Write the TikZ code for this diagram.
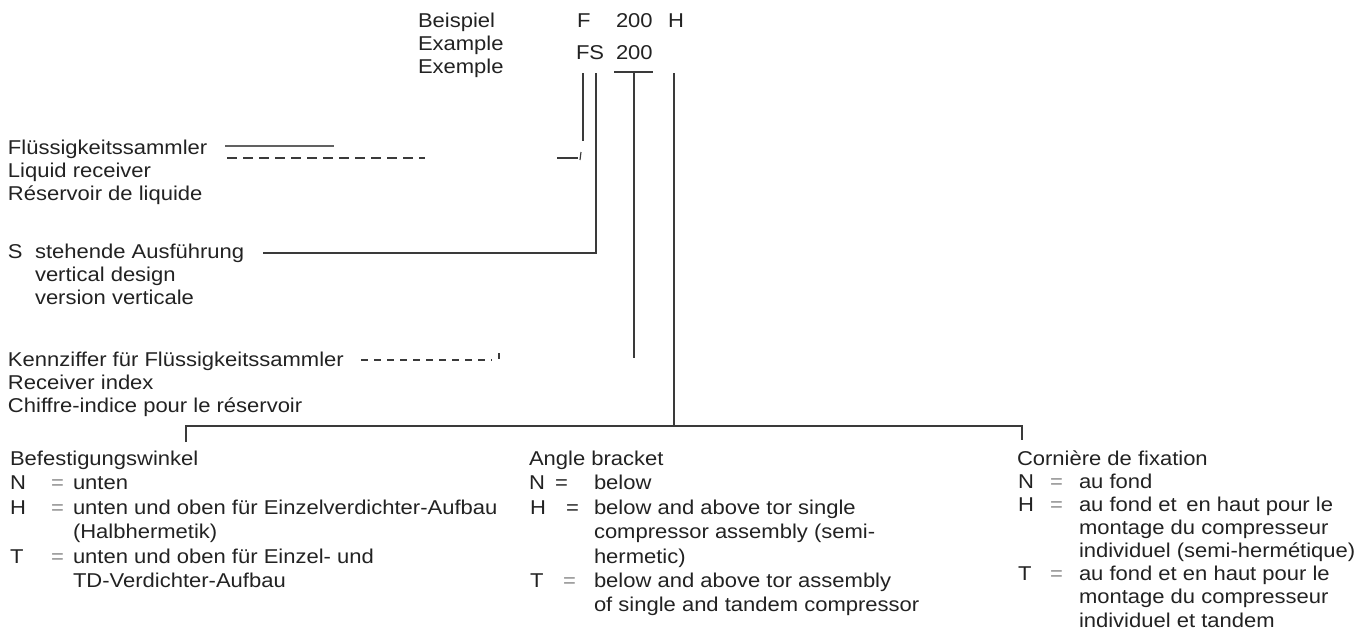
\documentclass[tikz,border=0pt]{standalone}
\usepackage{fontspec}
\usetikzlibrary{calc}
\setmainfont[FakeStretch=1.1]{Liberation Sans}
\definecolor{ink}{HTML}{222222}
\definecolor{lin}{HTML}{3A3A3A}
\definecolor{eqc}{HTML}{8A8A8A}
\newcommand\fsz{\fontsize{20}{22}\selectfont}
\tikzset{
  txt/.style={anchor=base west, inner sep=0pt, outer sep=0pt, text=ink, font=\fsz},
  eqs/.style={txt, text=eqc},
  ln/.style={draw=lin, line width=1.15pt},
  dsh/.style={ln, dash pattern=on 10pt off 6pt},
  dsk/.style={ln, dash pattern=on 7pt off 6pt},
}
\begin{document}
\begin{tikzpicture}[x=1pt,y=-1pt]
\useasboundingbox (0,0) rectangle (1371,632);
% example code
\node[txt] (bsp) at (418,27) {Beispiel};
\node[txt] (exa) at (418,50) {Example};
\node[txt] (exe) at (418,73) {Exemple};
\node[txt] (cF) at (577,27) {F};
\node[txt] (c200a) at (616,27) {200};
\node[txt] (cH) at (668,27) {H};
\node[txt] (cFS) at (576,59) {FS};
\node[txt] (c200b) at (616,59) {200};
% left labels
\node[txt] (fl1) at (8,154) {Flüssigkeitssammler};
\node[txt] (fl2) at (8,177) {Liquid receiver};
\node[txt] (fl3) at (8,200) {Réservoir de liquide};
\node[txt] (sS) at (8,258) {S};
\node[txt] (s1) at (35,258) {stehende Ausführung};
\node[txt] (s2) at (35,281) {vertical design};
\node[txt] (s3) at (35,304) {version verticale};
\node[txt] (k1) at (8,366) {Kennziffer für Flüssigkeitssammler};
\node[txt] (k2) at (8,389) {Receiver index};
\node[txt] (k3) at (8,412) {Chiffre-indice pour le réservoir};
% connector points
\coordinate (fTop) at (583,73);
\coordinate (fBot) at (583,141);
\coordinate (fHookR) at (578,158);
\coordinate (fHookL) at (557,158);
\coordinate (fSolA) at (225,146);
\coordinate (fSolB) at (334,146);
\coordinate (fDshA) at (227,158);
\coordinate (fDshB) at (425,158);
\coordinate (sTop) at (596,73);
\coordinate (sCor) at (596,253);
\coordinate (sEnd) at (263,253);
\coordinate (nBarL) at (614,72);
\coordinate (nBarR) at (653,72);
\coordinate (nMid) at (634,72);
\coordinate (nBot) at (634,358);
\coordinate (kA) at (361,360);
\coordinate (kB) at (492,360);
\coordinate (hTop) at (674,73);
\coordinate (hBar) at (674,426);
\coordinate (bL) at (186,426);
\coordinate (bR) at (1022,426);
\coordinate (bLd) at (186,442);
\coordinate (bRd) at (1022,440);
% connectors
\draw[ln] (fTop) -- (fBot);
\draw[ln] (fHookL) -- (fHookR);
\draw[ln] ($(fHookR)+(3,-6)$) -- ($(fHookR)+(2,2)$);
\draw[ln, line width=1.6pt, draw=lin!80] (fSolA) -- (fSolB);
\draw[dsh] (fDshA) -- (fDshB);
\draw[ln] (sTop) -- (sCor) -- (sEnd);
\draw[ln] (nBarL) -- (nBarR);
\draw[ln] (nMid) -- (nBot);
\draw[dsk] (kA) -- (kB);
\draw[ln] ($(kB)+(7,-7)$) -- ($(kB)+(7,-1)$);
\draw[ln] (hTop) -- (hBar);
\draw[ln] (bLd) -- (bL) -- (bR) -- (bRd);
% column 1
\node[txt] (a0) at (10,465) {Befestigungswinkel};
\node[txt] (a1l) at (10,489) {N};
\node[eqs] (a1e) at (51,489) {=};
\node[txt] (a1) at (73,489) {unten};
\node[txt] (a2l) at (10,514) {H};
\node[eqs] (a2e) at (51,514) {=};
\node[txt] (a2) at (73,514) {unten und oben für Einzelverdichter-Aufbau};
\node[txt] (a3) at (73,538) {(Halbhermetik)};
\node[txt] (a4l) at (10,563) {T};
\node[eqs] (a4e) at (51,563) {=};
\node[txt] (a4) at (73,563) {unten und oben für Einzel- und};
\node[txt] (a5) at (73,587) {TD-Verdichter-Aufbau};
% column 2
\node[txt] (b0) at (529,465) {Angle bracket};
\node[txt] (b1l) at (529,489) {N};
\node[txt] (b1e) at (555,489) {=};
\node[txt] (b1) at (594,489) {below};
\node[txt] (b2l) at (530,514) {H};
\node[txt] (b2e) at (566,514) {=};
\node[txt] (b2) at (594,514) {below and above tor single};
\node[txt] (b3) at (594,538) {compressor assembly (semi-};
\node[txt] (b4) at (594,563) {hermetic)};
\node[txt] (b5l) at (530,587) {T};
\node[eqs] (b5e) at (563,587) {=};
\node[txt] (b5) at (594,587) {below and above tor assembly};
\node[txt] (b6) at (594,611) {of single and tandem compressor};
% column 3
\node[txt] (c0) at (1017,465) {Cornière de fixation};
\node[txt] (c1l) at (1018,488) {N};
\node[eqs] (c1e) at (1050,488) {=};
\node[txt] (c1) at (1079,488) {au fond};
\node[txt] (c2l) at (1018,511) {H};
\node[eqs] (c2e) at (1050,511) {=};
\node[txt] (c2) at (1079,511) {au fond et \,en haut pour le};
\node[txt] (c3) at (1079,534) {montage du compresseur};
\node[txt] (c4) at (1079,557) {individuel (semi-hermétique)};
\node[txt] (c5l) at (1018,580) {T};
\node[eqs] (c5e) at (1050,580) {=};
\node[txt] (c5) at (1079,580) {au fond et en haut pour le};
\node[txt] (c6) at (1079,603) {montage du compresseur};
\node[txt] (c7) at (1079,627) {individuel et tandem};
\end{tikzpicture}
\end{document}
